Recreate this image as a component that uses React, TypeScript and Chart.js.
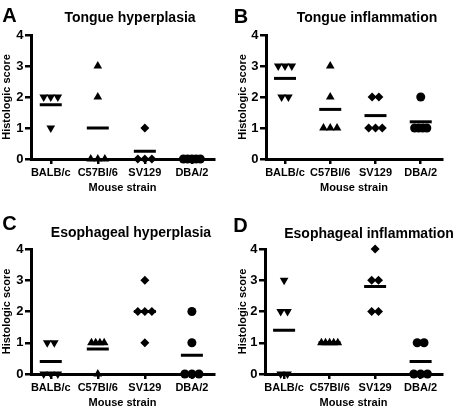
import React, { useEffect, useRef } from 'react';
import { Chart, registerables } from 'chart.js';

Chart.register(...registerables);

const FONT = "'Liberation Sans', Arial, Helvetica, sans-serif";

// ---- data ----
const strains = ['BALB/c', 'C57Bl/6', 'SV129', 'DBA/2'];
const yTickValues = [0, 1, 2, 3, 4];
const yAxisTitle = 'Histologic score';
const xAxisTitle = 'Mouse strain';

// A: Tongue hyperplasia
const tongueHypBALBc = [2, 2, 2, 1];
const tongueHypC57 = [3, 2, 0, 0, 0];
const tongueHypSV129 = [1, 0, 0, 0];
const tongueHypDBA2 = [0, 0, 0, 0, 0];

// B: Tongue inflammation
const tongueInfBALBc = [3, 3, 3, 2, 2];
const tongueInfC57 = [3, 2, 1, 1, 1];
const tongueInfSV129 = [2, 2, 1, 1, 1];
const tongueInfDBA2 = [2, 1, 1, 1, 1];

// C: Esophageal hyperplasia
const esoHypBALBc = [1, 1, 0, 0, 0];
const esoHypC57 = [1, 1, 1, 1, 0];
const esoHypSV129 = [3, 2, 2, 2, 1];
const esoHypDBA2 = [2, 1, 0, 0, 0];

// D: Esophageal inflammation
const esoInfBALBc = [3, 2, 2, 0, 0];
const esoInfC57 = [1, 1, 1, 1, 1];
const esoInfSV129 = [4, 3, 3, 2, 2];
const esoInfDBA2 = [1, 1, 0, 0, 0];

// ---- styling ----
const markerStyles = [
  { pointStyle: 'triangle', rotation: 180, radius: 5 },
  { pointStyle: 'triangle', rotation: 0, radius: 5 },
  { pointStyle: 'rectRot', rotation: 0, radius: 4.5 },
  { pointStyle: 'circle', rotation: 0, radius: 4.5 },
];

const W = 228;
const H = 206;

interface PanelDef {
  letter: string;
  title: string;
  groups: number[][];
  ox: number;
  oy: number;
  left: number;
  right: number;
  top: number;
  bottom: number;
  axisBottom: number;
  padLeft: number;
  titleX: number;
  titleY: number;
  letterX: number;
  letterY: number;
}

const panels: PanelDef[] = [
  {
    letter: 'A', title: 'Tongue hyperplasia',
    groups: [tongueHypBALBc, tongueHypC57, tongueHypSV129, tongueHypDBA2],
    ox: 0, oy: 0, left: 31, right: 217, top: 35, bottom: 159, axisBottom: 194.6, padLeft: 0,
    titleX: 130, titleY: 16.5, letterX: 9.5, letterY: 15,
  },
  {
    letter: 'B', title: 'Tongue inflammation',
    groups: [tongueInfBALBc, tongueInfC57, tongueInfSV129, tongueInfDBA2],
    ox: 228, oy: 0, left: 38, right: 227, top: 35, bottom: 159, axisBottom: 194.6, padLeft: 8.4,
    titleX: 367, titleY: 17, letterX: 241, letterY: 16,
  },
  {
    letter: 'C', title: 'Esophageal hyperplasia',
    groups: [esoHypBALBc, esoHypC57, esoHypSV129, esoHypDBA2],
    ox: 0, oy: 206, left: 31, right: 218, top: 43, bottom: 168, axisBottom: 203.6, padLeft: 0,
    titleX: 131, titleY: 232, letterX: 9.5, letterY: 222.7,
  },
  {
    letter: 'D', title: 'Esophageal inflammation',
    groups: [esoInfBALBc, esoInfC57, esoInfSV129, esoInfDBA2],
    ox: 228, oy: 206, left: 37, right: 227, top: 43, bottom: 168, axisBottom: 203.6, padLeft: 8.4,
    titleX: 369, titleY: 233, letterX: 240.5, letterY: 225,
  },
];

// spread points that share a value horizontally around the category
function spreadPoints(values: number[], idx: number) {
  const counts: Record<number, number> = {};
  values.forEach((v) => { counts[v] = (counts[v] || 0) + 1; });
  const seen: Record<number, number> = {};
  return values.map((v) => {
    const n = counts[v];
    const k = (seen[v] = (seen[v] ?? -1) + 1);
    const step = n <= 3 ? 0.15 : 0.09;
    return { x: idx + (k - (n - 1) / 2) * step, y: v };
  });
}

const mean = (a: number[]) => a.reduce((s, v) => s + v, 0) / a.length;

function Panel({ p }: { p: PanelDef }) {
  const ref = useRef<HTMLCanvasElement | null>(null);
  useEffect(() => {
    if (!ref.current) return;
    const datasets: any[] = p.groups.map((g, i) => ({
      label: strains[i],
      data: spreadPoints(g, i),
      pointStyle: markerStyles[i].pointStyle,
      rotation: markerStyles[i].rotation,
      pointRadius: markerStyles[i].radius,
      pointBackgroundColor: '#000',
      pointBorderColor: '#000',
      pointBorderWidth: 0,
      showLine: false,
      clip: false,
    }));
    datasets.push({
      label: 'mean',
      data: p.groups.map((g, i) => ({ x: i, y: mean(g) })),
      pointStyle: 'line',
      pointRadius: 11,
      pointBorderWidth: 3,
      pointBorderColor: '#000',
      pointBackgroundColor: '#000',
      showLine: false,
      clip: false,
    });
    const chart = new Chart(ref.current, {
      type: 'scatter',
      data: { datasets },
      options: {
        responsive: false,
        animation: false,
        events: [],
        layout: {
          padding: { top: p.top, left: p.padLeft, right: W - p.right, bottom: H - p.axisBottom },
        },
        plugins: {
          legend: { display: false },
          tooltip: { enabled: false },
          title: { display: false },
        },
        scales: {
          x: {
            type: 'linear',
            min: -0.42,
            max: 3.47,
            afterBuildTicks: (s: any) => { s.ticks = strains.map((_, i) => ({ value: i })); },
            afterFit: (s: any) => { s.height = p.axisBottom - p.bottom; },
            grid: { display: true, drawOnChartArea: false, drawTicks: true, tickLength: 5, lineWidth: 2.5, color: '#000' },
            border: { display: true, width: 3, color: '#000' },
            ticks: {
              callback: (v: any) => strains[Math.round(Number(v))],
              font: { family: FONT, size: 11, weight: 'bold' },
              color: '#000',
              padding: 2,
              maxRotation: 0,
              autoSkip: false,
            },
            title: {
              display: true, text: xAxisTitle, color: '#000', padding: { top: 0, bottom: 0 },
              font: { family: FONT, size: 11, weight: 'bold' },
            },
          },
          y: {
            type: 'linear',
            min: 0,
            max: 4,
            afterBuildTicks: (s: any) => { s.ticks = yTickValues.map((v) => ({ value: v })); },
            afterFit: (s: any) => { s.width = p.left - p.padLeft; },
            grid: { display: true, drawOnChartArea: false, drawTicks: true, tickLength: 6, lineWidth: 2.5, color: '#000' },
            border: { display: true, width: 3, color: '#000' },
            ticks: {
              font: { family: FONT, size: 13, weight: 'bold' },
              color: '#000',
              padding: 1.5,
            },
            title: {
              display: true, text: yAxisTitle, color: '#000', padding: { top: 0, bottom: 0 },
              font: { family: FONT, size: 11, weight: 'bold' },
            },
          },
        },
      } as any,
    });
    return () => chart.destroy();
  }, [p]);

  return (
    <>
      <canvas
        ref={ref}
        width={W}
        height={H}
        style={{ position: 'absolute', left: p.ox, top: p.oy, width: W, height: H, display: 'block' }}
      />
      <div style={{ ...textStyle, left: p.letterX, top: p.letterY, fontSize: 20 }}>{p.letter}</div>
      <div style={{ ...textStyle, left: p.titleX, top: p.titleY, fontSize: 14 }}>{p.title}</div>
    </>
  );
}

const textStyle: React.CSSProperties = {
  position: 'absolute',
  transform: 'translate(-50%, -50%)',
  fontFamily: FONT,
  fontWeight: 'bold',
  lineHeight: 1,
  whiteSpace: 'nowrap',
  color: '#000',
};

export default function App() {
  return (
    <div style={{ position: 'absolute', left: 0, top: 0, width: 456, height: 412, background: '#fff', overflow: 'hidden' }}>
      {panels.map((p) => (
        <Panel key={p.letter} p={p} />
      ))}
    </div>
  );
}
